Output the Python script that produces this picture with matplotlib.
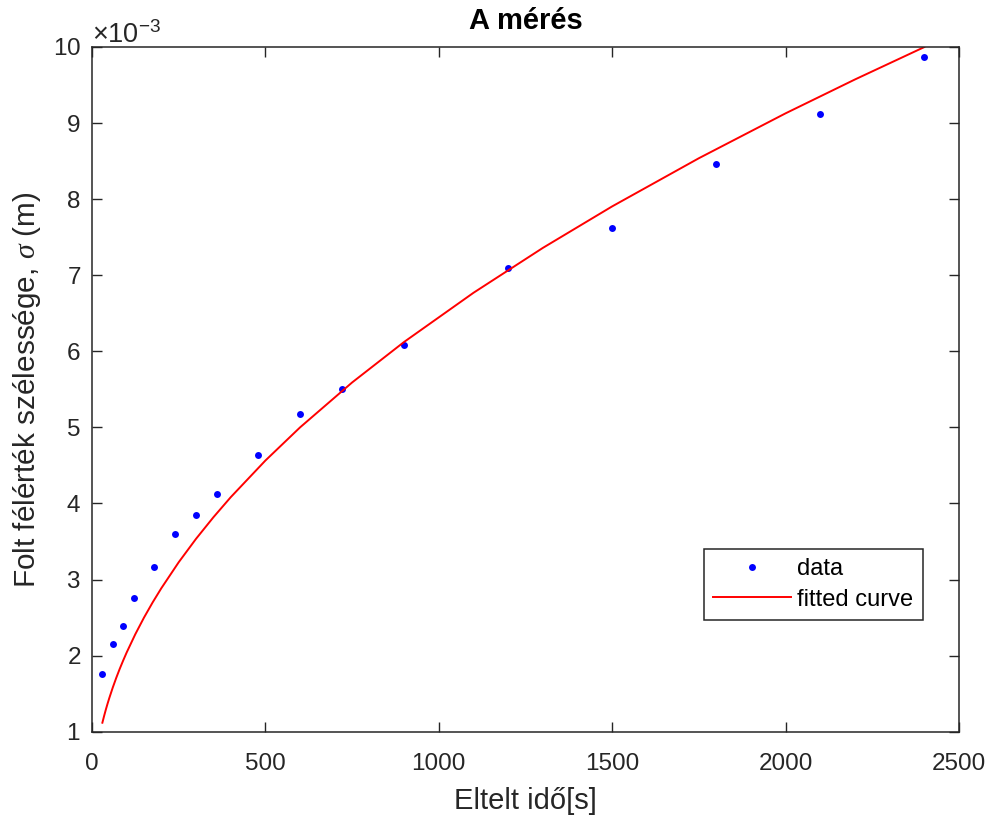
import matplotlib

matplotlib.use("Agg")
import matplotlib.pyplot as plt
from matplotlib.ticker import ScalarFormatter

plt.rcParams["font.family"] = ["Liberation Sans", "DejaVu Sans"]
plt.rcParams["mathtext.fontset"] = "custom"
plt.rcParams["mathtext.it"] = "Liberation Serif:italic"
plt.rcParams["mathtext.rm"] = "Liberation Sans"

AXIS_GRAY = "#262626"

# measured spot widths (elapsed time in s, width in m)
time_s = [30, 60, 90, 120, 180, 240, 300, 360, 480, 600, 720, 900,
          1200, 1500, 1800, 2100, 2400]
sigma_m = [1.758e-3, 2.149e-3, 2.389e-3, 2.757e-3, 3.161e-3, 3.594e-3,
           3.848e-3, 4.124e-3, 4.637e-3, 5.172e-3, 5.500e-3, 6.083e-3,
           7.090e-3, 7.617e-3, 8.466e-3, 9.119e-3, 9.872e-3]

# fitted curve
fit_t = [30, 35, 40, 45, 50, 60, 70, 80, 90, 100, 125, 150, 175, 200, 250,
         300, 350, 400, 500, 600, 750, 900, 1100, 1300, 1500, 1750, 2000,
         2200, 2400]
fit_sigma = [1.118e-3, 1.207e-3, 1.291e-3, 1.369e-3, 1.443e-3, 1.581e-3,
             1.708e-3, 1.826e-3, 1.936e-3, 2.041e-3, 2.282e-3, 2.500e-3,
             2.700e-3, 2.886e-3, 3.227e-3, 3.535e-3, 3.818e-3, 4.082e-3,
             4.564e-3, 5.000e-3, 5.590e-3, 6.123e-3, 6.769e-3, 7.359e-3,
             7.905e-3, 8.538e-3, 9.128e-3, 9.573e-3, 9.999e-3]

fig = plt.figure(figsize=(9.9, 8.17), dpi=100)
ax = fig.add_axes([0.0929, 0.1044, 0.8758, 0.8381])

ax.plot(time_s, sigma_m, linestyle="none", marker="o", markersize=5,
        markerfacecolor="#0000ff", markeredgecolor="none", label="data")
ax.plot(fit_t, fit_sigma, color="#ff0000", linewidth=1.4, label="fitted curve")

ax.set_xlim(0, 2500)
ax.set_ylim(1e-3, 10e-3)
ax.set_xticks([0, 500, 1000, 1500, 2000, 2500])
ax.set_yticks([i * 1e-3 for i in range(1, 11)])

fmt = ScalarFormatter(useMathText=True)
fmt.set_powerlimits((-3, -3))
ax.yaxis.set_major_formatter(fmt)
ax.yaxis.get_offset_text().set_fontsize(19.5)
ax.yaxis.get_offset_text().set_color(AXIS_GRAY)

ax.tick_params(direction="in", length=7, width=1, top=True, right=True,
               labelsize=17.5, colors=AXIS_GRAY)
ax.tick_params(axis="x", pad=15)
ax.tick_params(axis="y", pad=8)
for spine in ax.spines.values():
    spine.set_color(AXIS_GRAY)
    spine.set_linewidth(1.1)

ax.set_title("A mérés", fontsize=21, fontweight="bold", pad=13)
ax.set_xlabel("Eltelt idő[s]", fontsize=21, color=AXIS_GRAY, labelpad=9)
ax.set_ylabel(r"Folt félérték szélessége, $\sigma$ (m)", fontsize=21.4,
              color=AXIS_GRAY, labelpad=7)

leg = ax.legend(loc="upper left", bbox_to_anchor=(704 / 990, 1 - 549 / 817),
                bbox_transform=fig.transFigure, fontsize=17, frameon=True,
                fancybox=False, framealpha=1, edgecolor=AXIS_GRAY,
                handlelength=3.3, handletextpad=0.25, labelspacing=0.35,
                borderpad=0.4, borderaxespad=0)
leg.get_frame().set_linewidth(1.1)

fig.savefig("out.png", dpi=100)
